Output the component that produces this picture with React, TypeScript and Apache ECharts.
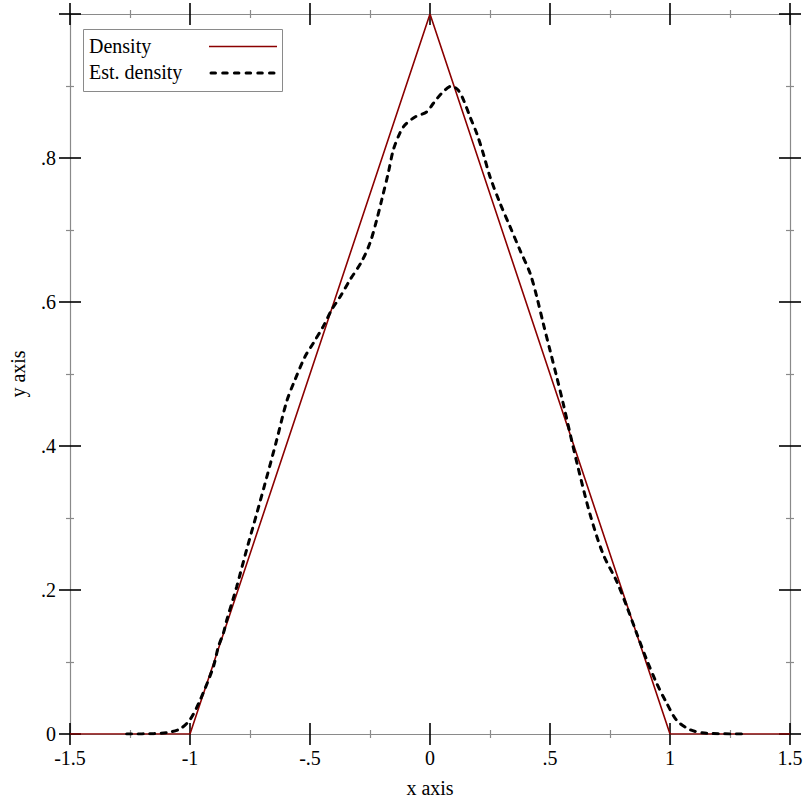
import React, { useEffect, useRef } from "react";
import * as echarts from "echarts";

const densX = [-1.5, -1, 0, 1, 1.5];
const densY = [0, 0, 1, 0, 0];

const estX = [
  -1.264, -1.15, -1.097, -1.042, -1.0, -0.958, -0.903, -0.882, -0.861, -0.847,
  -0.82, -0.805, -0.764, -0.722, -0.68, -0.639, -0.597, -0.5625, -0.521, -0.486,
  -0.445, -0.41, -0.375, -0.333, -0.285, -0.25, -0.222, -0.201, -0.174, -0.153,
  -0.125, -0.104, -0.0625, -0.014, 0.014, 0.049, 0.09, 0.118, 0.139, 0.167,
  0.195, 0.222, 0.25, 0.292, 0.333, 0.375, 0.417, 0.445, 0.472, 0.5,
  0.528, 0.555, 0.59, 0.617, 0.667, 0.721, 0.778, 0.82, 0.861, 0.903,
  0.945, 0.986, 1.028, 1.083, 1.153, 1.299,
];
const estY = [
  0, 0.0005, 0.002, 0.007, 0.02, 0.047, 0.093, 0.121, 0.14, 0.158,
  0.188, 0.205, 0.256, 0.306, 0.357, 0.408, 0.462, 0.492, 0.524, 0.543,
  0.566, 0.589, 0.607, 0.631, 0.656, 0.682, 0.714, 0.742, 0.779, 0.811,
  0.835, 0.846, 0.857, 0.864, 0.876, 0.89, 0.9, 0.894, 0.881, 0.857,
  0.834, 0.806, 0.774, 0.737, 0.705, 0.672, 0.64, 0.607, 0.57, 0.533,
  0.496, 0.459, 0.408, 0.37, 0.305, 0.25, 0.212, 0.177, 0.14, 0.103,
  0.07, 0.043, 0.019, 0.006, 0.001, 0,
];

const seriesNames = ["Density", "Est. density"];
const xTitle = "x axis";
const yTitle = "y axis";

const FONT = "'Liberation Serif', 'Times New Roman', serif";
const AXIS_GRAY = "#8a8a8a";

function fmt(v: number): string {
  const r = Math.round(v * 100) / 100;
  if (r === 0) return "0";
  let s = String(r);
  s = s.replace(/^(-?)0\./, "$1.");
  return s;
}

export default function App() {
  const ref = useRef<HTMLDivElement>(null);
  useEffect(() => {
    if (!ref.current) return;
    const chart = echarts.init(ref.current, undefined, { renderer: "svg" });
    const labelStyle = { fontFamily: FONT, fontSize: 20, color: "#000" };
    const mkX = (position: "bottom" | "top", inside: boolean, main: boolean) => ({
      type: "value" as const,
      position,
      min: -1.5,
      max: 1.5,
      interval: 0.5,
      name: main ? xTitle : "",
      nameLocation: "middle" as const,
      nameGap: 44,
      nameTextStyle: labelStyle,
      axisLine: { show: !inside, onZero: false, lineStyle: { color: AXIS_GRAY, width: 1.2 } },
      axisTick: { show: true, inside, length: 11, lineStyle: { color: "#000", width: 1.6 } },
      minorTick: { show: true, splitNumber: 2, length: 4, lineStyle: { color: AXIS_GRAY, width: 1.2 } },
      axisLabel: { show: main, margin: 14, formatter: fmt, ...labelStyle },
      splitLine: { show: false },
      minorSplitLine: { show: false },
    });
    const mkY = (position: "left" | "right", inside: boolean, main: boolean) => ({
      type: "value" as const,
      position,
      min: 0,
      max: 1,
      interval: 0.2,
      name: main ? yTitle : "",
      nameLocation: "middle" as const,
      nameGap: 42,
      nameTextStyle: labelStyle,
      axisLine: { show: !inside, onZero: false, lineStyle: { color: AXIS_GRAY, width: 1.2 } },
      axisTick: { show: true, inside, length: 11, lineStyle: { color: "#000", width: 1.6 } },
      minorTick: { show: true, splitNumber: 2, length: 4, lineStyle: { color: AXIS_GRAY, width: 1.2 } },
      axisLabel: {
        show: main,
        margin: 14,
        formatter: (v: number) => (v >= 0.999 ? "" : fmt(v)),
        ...labelStyle,
      },
      splitLine: { show: false },
      minorSplitLine: { show: false },
    });

    const legendLeft = 83;
    const legendTop = 29;
    chart.setOption({
      animation: false,
      backgroundColor: "#fff",
      grid: { left: 70, top: 14, width: 720, height: 720, containLabel: false },
      xAxis: [
        mkX("bottom", false, true),
        mkX("bottom", true, false),
        mkX("top", false, false),
        mkX("top", true, false),
      ],
      yAxis: [
        mkY("left", false, true),
        mkY("left", true, false),
        mkY("right", false, false),
        mkY("right", true, false),
      ],
      series: [
        {
          name: seriesNames[0],
          type: "line",
          data: densX.map((x, i) => [x, densY[i]]),
          showSymbol: false,
          lineStyle: { color: "#8b0000", width: 1.6 },
          itemStyle: { color: "#8b0000" },
          z: 3,
        },
        {
          name: seriesNames[1],
          type: "line",
          data: estX.map((x, i) => [x, estY[i]]),
          showSymbol: false,
          smooth: 0.3,
          lineStyle: { color: "#000", width: 3, type: [5, 6.5], cap: "round" },
          itemStyle: { color: "#000" },
          z: 4,
        },
      ],
      graphic: [
        {
          type: "rect",
          left: legendLeft,
          top: legendTop,
          shape: { x: 0, y: 0, width: 199, height: 62 },
          style: { fill: "#fff", stroke: AXIS_GRAY, lineWidth: 1 },
          z: 10,
        },
        {
          type: "text",
          x: 89,
          y: 46,
          style: { text: seriesNames[0], font: `20px ${FONT}`, fill: "#000", verticalAlign: "middle" },
          z: 11,
        },
        {
          type: "text",
          x: 89,
          y: 72,
          style: { text: seriesNames[1], font: `20px ${FONT}`, fill: "#000", verticalAlign: "middle" },
          z: 11,
        },
        {
          type: "line",
          shape: { x1: 209, y1: 46.5, x2: 277, y2: 46.5 },
          style: { stroke: "#8b0000", lineWidth: 1.6 },
          z: 11,
        },
        {
          type: "line",
          shape: { x1: 211, y1: 73, x2: 277, y2: 73 },
          style: { stroke: "#000", lineWidth: 3, lineDash: [4.5, 7.2], lineCap: "round" },
          z: 11,
        },
      ],
    });
    return () => chart.dispose();
  }, []);
  return (
    <div
      ref={ref}
      style={{ position: "absolute", left: 0, top: 0, width: 812, height: 812, background: "#fff" }}
    />
  );
}
